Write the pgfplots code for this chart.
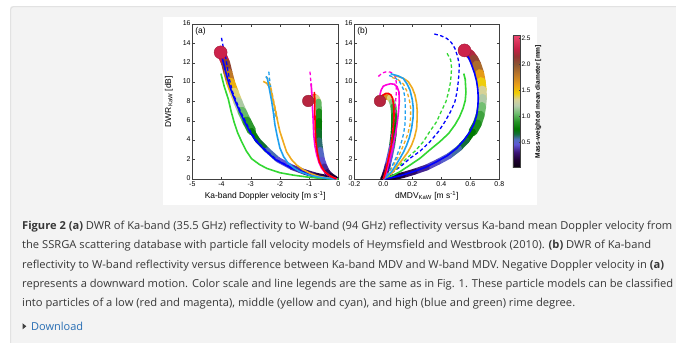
\documentclass[border=0pt]{standalone}
\usepackage{pgfplots}
\pgfplotsset{compat=1.18}
\usepackage{graphicx}
\usepackage{fontspec}
\setmainfont{Liberation Sans}
\newfontfamily\capfont{Open Sans}

\definecolor{cblue}{RGB}{0,0,255}
\definecolor{cgreen}{RGB}{50,215,50}
\definecolor{corange}{RGB}{240,170,30}
\definecolor{ccyan}{RGB}{30,160,240}
\definecolor{cmag}{RGB}{255,0,220}
\definecolor{cred}{RGB}{255,0,0}
\definecolor{panelgray}{RGB}{243,243,243}
\definecolor{panelborder}{RGB}{226,226,226}
\definecolor{captext}{RGB}{55,55,55}
\definecolor{linkblue}{RGB}{40,110,180}

\pgfplotsset{
  colormap={dm}{rgb255(0cm)=(10,0,15) rgb255(0.15cm)=(30,0,50) rgb255(0.3cm)=(60,20,120)
    rgb255(0.45cm)=(95,85,215) rgb255(0.55cm)=(80,110,190) rgb255(0.65cm)=(20,110,60)
    rgb255(0.75cm)=(0,120,0) rgb255(0.9cm)=(40,150,40) rgb255(1.05cm)=(110,190,110)
    rgb255(1.2cm)=(185,205,175) rgb255(1.32cm)=(215,210,150) rgb255(1.45cm)=(240,205,0)
    rgb255(1.6cm)=(235,160,20) rgb255(1.8cm)=(190,120,40) rgb255(2cm)=(140,85,50)
    rgb255(2.15cm)=(150,50,50) rgb255(2.3cm)=(200,30,70) rgb255(2.55cm)=(235,70,110)},
  panel/.style={
    scale only axis, height=154.7bp, ymin=0, ymax=16, ytick={0,2,...,16},
    tick align=inside, major tick length=2.2bp,
    axis line style={black!75, line width=0.45bp},
    tick style={black!75, line width=0.4bp},
    ticklabel style={font=\fontsize{7}{8}\selectfont, inner sep=1.5bp},
    xticklabel style={yshift=-1bp},
    yticklabel style={yshift=0.8bp},
    label style={font=\fontsize{8.5}{10}\selectfont},
    /pgf/number format/assume math mode=true,
    colormap name=dm, point meta min=0, point meta max=2.55,
  },
  sol/.style={line width=1.6bp, no marks},
  dsh/.style={line width=1.3bp, no marks, dash pattern=on 3.5bp off 2.5bp},
  trk/.style={mesh, point meta=explicit, line cap=round, line join=round, no marks},
  blob/.style={scatter, only marks, mark=*, point meta=explicit},
}

\begin{document}
\begin{tikzpicture}
\useasboundingbox (0,0) rectangle (676bp,-343bp);
\fill[white] (0,0) rectangle (676bp,-343bp);
\fill[panelgray, rounded corners=3bp] (10bp,-6bp) rectangle (700bp,-370bp);
\draw[panelborder, line width=1.2bp, rounded corners=3bp] (10.6bp,-370bp) -- (10.6bp,-6.6bp) -- (700bp,-6.6bp);
\fill[white] (163bp,-17bp) rectangle (537bp,-205bp);

% ---------------- panel (a) ----------------
\begin{axis}[panel, at={(192.3bp,-179bp)}, anchor=south west, width=146bp,
  xmin=-5, xmax=0, xtick={-5,-4,-3,-2,-1,0},
  xlabel={Ka-band Doppler velocity [m s\textsuperscript{-1}]},
  ylabel={DWR\textsubscript{KaW} [dB]}, ylabel shift=5bp]
% thick track, high rime
\addplot[trk, line width=9bp] table[meta=D] {
x y D
-4.02 13.1 2.4
-3.86 12.0 2.2
-3.78 11.0 1.95
-3.69 10.0 1.65
-3.57 9.0 1.45
-3.44 8.0 1.25
-3.30 7.0 1.1
-3.14 6.0 0.97
-2.97 5.0 0.85
};
\addplot[trk, line width=5.5bp] table[meta=D] {
x y D
-2.97 5.0 0.85
-2.76 4.0 0.72
-2.44 3.0 0.62
-2.07 2.0 0.5
-1.58 1.2 0.4
-1.13 0.7 0.32
-0.74 0.35 0.23
-0.36 0.12 0.13
-0.08 0.0 0.04
};
% thick track, low rime
\addplot[trk, line width=6bp] table[meta=D] {
x y D
-1.03 8.07 2.4
-0.95 8.3 2.2
-0.85 8.5 1.9
-0.75 8.4 1.5
-0.68 8.0 1.15
-0.66 7.0 0.9
-0.66 6.0 0.8
-0.67 5.0 0.72
-0.66 4.0 0.65
-0.62 3.0 0.57
-0.56 2.0 0.48
-0.48 1.3 0.4
-0.38 0.7 0.3
-0.25 0.3 0.2
-0.12 0.05 0.08
};
\addplot[blob, mark size=6.5bp] table[meta=D] {
x y D
-4.03 13.1 2.33
};
\addplot[blob, mark size=5.8bp] table[meta=D] {
x y D
-1.03 8.07 2.25
};
% dashed lines
\addplot[dsh, cblue] table {
-4.0 14.6
-3.95 13.8
-3.88 13.0
-3.83 12.1
-3.78 11.2
-3.72 10.2
-3.62 9
-3.49 8
-3.35 7
-3.19 6
-3.02 5
-2.81 4
-2.49 3
-2.12 2
-1.62 1.2
-1.17 0.7
-0.77 0.35
-0.37 0.12
-0.08 0
};
\addplot[dsh, ccyan] table {
-2.38 11.1
-2.36 10.5
-2.33 9.8
-2.26 8.6
-2.2 7.5
-2.15 6.3
};
\addplot[dsh, corange] table {
-2.47 10.6
-2.40 10.3
-2.32 9.6
-2.24 8.5
-2.16 7.3
-2.08 6.2
};
\addplot[dsh, cmag] table {
-0.97 11.1
-0.95 10.4
-0.93 9.7
-0.91 8.7
-0.89 7.5
-0.87 6.3
};
% solid lines
\addplot[sol, cgreen] table {
-4.02 10.9
-3.9 9.5
-3.77 8.3
-3.67 7
-3.57 5.9
-3.45 4.8
-3.31 3.86
-3.15 2.9
-2.97 2.1
-2.7 1.5
-2.45 1.1
-2.0 0.65
-1.54 0.4
-1.0 0.18
-0.4 0.03
0 0
};
\addplot[sol, cblue] table {
-4.03 13.1
-3.93 12
-3.85 11
-3.76 10
-3.65 9
-3.52 8
-3.38 7
-3.22 6
-3.05 5
-2.84 4
-2.52 3
-2.15 2
-1.65 1.2
-1.2 0.7
-0.8 0.35
-0.4 0.12
-0.1 0
};
\addplot[sol, corange] table {
-2.57 10.1
-2.45 9.9
-2.34 9.4
-2.25 8.3
-2.17 7.3
-2.08 6.0
-2.0 4.9
-1.88 3.8
-1.77 2.8
-1.6 2.0
-1.43 1.45
-1.2 0.95
-0.97 0.59
-0.7 0.3
-0.4 0.12
-0.15 0.02
};
\addplot[sol, ccyan] table {
-2.48 10.6
-2.43 10.4
-2.36 9.3
-2.28 8.0
-2.22 6.8
-2.17 5.6
-2.09 4.4
-2.0 3.2
-1.87 2.3
-1.71 1.6
-1.5 1.1
-1.31 0.76
-1.0 0.4
-0.63 0.17
-0.3 0.05
-0.1 0.01
};
\addplot[sol, cmag] table {
-0.93 9.9
-0.9 8.5
-0.88 7.3
-0.86 6
-0.84 4.55
-0.8 3.4
-0.74 2.5
-0.66 1.7
-0.57 1.1
-0.46 0.7
-0.34 0.41
-0.2 0.18
-0.11 0.07
-0.05 0.0
};
\addplot[sol, cred] table {
-0.82 9.0
-0.8 8.0
-0.8 6.6
-0.79 5.2
-0.77 3.9
-0.72 2.8
-0.65 1.8
-0.56 1.2
-0.46 0.76
-0.32 0.4
-0.17 0.14
-0.07 0.02
};
\node[anchor=north west, inner sep=0, font=\fontsize{8.5}{10}\selectfont] at (rel axis cs:0.02,0.98) {(a)};
\end{axis}

% ---------------- panel (b) ----------------
\begin{axis}[panel, at={(354.3bp,-179bp)}, anchor=south west, width=145bp,
  xmin=-0.2, xmax=0.8, xtick={-0.2,0,0.2,0.4,0.6,0.8},
  xticklabel style={/pgf/number format/.cd, fixed, fixed zerofill, precision=1},
  xlabel={dMDV\textsubscript{KaW} [m s\textsuperscript{-1}]},
  colorbar,
  colorbar style={at={(parent axis.east)}, anchor=west, xshift=5bp,
    width=7.5bp, height=132bp, ytick={0.5,1,1.5,2,2.5},
    tick align=inside, major tick length=1.5bp,
    axis line style={black!75, line width=0.4bp},
    tick style={black!75, line width=0.3bp},
    yticklabel style={font=\fontsize{6.5}{7}\selectfont, inner sep=1bp, yshift=0bp,
      /pgf/number format/.cd, fixed, fixed zerofill, precision=1},
    ylabel={Mass-weighted mean diameter [mm]},
    ylabel style={font=\bfseries\fontsize{6.6}{7}\selectfont},
    /pgf/number format/assume math mode=true}]
% thick track high rime
\addplot[trk, line width=9bp] table[meta=D] {
x y D
0.565 13.25 2.4
0.6 12.9 2.3
0.625 12.4 2.15
0.645 11.8 2.0
0.665 10.9 1.75
0.675 10.07 1.5
0.682 9.2 1.38
0.683 8.34 1.25
0.678 7.5 1.12
0.668 6.6 1.0
0.648 5.7 0.9
0.618 4.9 0.8
};
\addplot[trk, line width=6bp] table[meta=D] {
x y D
0.618 4.9 0.8
0.575 4.0 0.7
0.522 3.17 0.61
0.455 2.4 0.53
0.38 1.79 0.46
0.3 1.2 0.38
0.215 0.76 0.3
0.135 0.4 0.2
0.07 0.17 0.12
0.02 0.03 0.05
0 0 0.02
};
% thick track low rime
\addplot[trk, line width=6bp] table[meta=D] {
x y D
-0.023 8.07 2.4
-0.005 8.4 2.2
0.02 8.55 1.9
0.045 8.4 1.5
0.06 8.0 1.2
0.07 7.5 1.0
0.075 6.6 0.88
0.075 5.6 0.78
0.07 4.5 0.7
0.06 3.4 0.6
0.046 2.4 0.5
0.03 1.4 0.38
0.015 0.6 0.25
0.003 0.1 0.1
0 0 0.05
};
\addplot[blob, mark size=6.5bp] table[meta=D] {
x y D
0.56 13.3 2.33
};
\addplot[blob, mark size=5.8bp] table[meta=D] {
x y D
-0.023 8.07 2.25
};
% dashed
\addplot[dsh, cblue] table {
0.352 15.0
0.40 14.8
0.437 14.55
0.47 14.1
0.494 13.5
0.512 12.7
0.524 11.8
0.522 10.9
0.517 10.07
0.508 9.0
0.494 8.0
0.465 7.0
0.425 5.93
0.38 4.9
0.322 3.86
0.255 2.9
0.184 2.14
0.12 1.3
0.069 0.76
0.025 0.25
0 0
};
\addplot[dsh, cgreen] table {
0.44 13.0
0.465 12.3
0.471 11.45
0.464 10.07
0.45 9.0
0.432 8.0
0.40 7.0
0.368 5.93
0.32 4.9
0.276 3.86
0.22 2.9
0.161 2.14
0.1 1.2
0.046 0.5
0 0
};
\addplot[dsh, corange] table {
0.06 10.5
0.1 10.3
0.14 9.8
0.165 9.0
0.182 8.0
0.189 7.3
0.188 6.4
0.184 5.6
0.17 4.7
0.149 3.86
0.125 3.0
0.1 2.2
0.07 1.4
0.04 0.7
0.015 0.2
0 0
};
\addplot[dsh, ccyan] table {
0.04 10.7
0.08 10.5
0.115 10.0
0.138 9.3
0.148 8.5
0.152 7.6
0.152 6.6
0.149 5.6
0.14 4.7
0.126 3.86
0.108 3.0
0.088 2.2
0.062 1.4
0.035 0.7
0.012 0.2
0 0
};
\addplot[dsh, cmag] table {
-0.034 10.6
-0.01 10.95
0.023 11.1
0.05 11.05
0.069 10.9
0.085 10.5
0.09 9.9
0.09 9.0
0.085 8.0
0.08 7.0
0.072 5.9
0.063 4.9
0.054 3.86
0.044 2.9
0.034 2.14
0.024 1.4
0.015 0.76
0.006 0.25
0 0
};
% solid
\addplot[sol, cgreen] table {
0.555 10.9
0.565 10.3
0.57 9.0
0.565 8.1
0.55 7.3
0.525 6.4
0.494 5.6
0.45 4.7
0.39 3.86
0.32 3.0
0.253 2.14
0.18 1.4
0.115 0.76
0.05 0.25
0 0
};
\addplot[sol, cblue] table {
0.563 13.1
0.59 12.5
0.609 11.8
0.63 10.9
0.644 10.07
0.652 9.2
0.655 8.34
0.652 7.5
0.644 6.6
0.625 5.7
0.598 4.9
0.555 4.0
0.506 3.17
0.44 2.4
0.368 1.79
0.29 1.2
0.207 0.76
0.13 0.4
0.069 0.17
0.02 0.03
0 0
};
\addplot[sol, corange] table {
0.075 10.7
0.103 10.6
0.14 10.4
0.172 10.07
0.2 9.4
0.218 8.7
0.23 7.8
0.234 7.0
0.233 6.1
0.23 5.24
0.215 4.3
0.195 3.5
0.17 2.8
0.138 2.14
0.1 1.4
0.069 0.76
0.03 0.25
0 0
};
\addplot[sol, ccyan] table {
0.05 10.9
0.069 10.8
0.105 10.65
0.138 10.4
0.165 9.8
0.184 9.2
0.2 8.2
0.207 7.3
0.205 6.3
0.195 5.24
0.18 4.3
0.161 3.5
0.14 2.8
0.115 2.14
0.085 1.4
0.057 0.76
0.025 0.25
0 0
};
\addplot[sol, cmag] table {
-0.023 8.7
-0.015 9.2
0.0 9.6
0.023 9.75
0.05 9.85
0.075 9.8
0.095 9.55
0.108 9.0
0.11 8.0
0.105 7.0
0.097 5.93
0.087 4.9
0.074 3.86
0.06 2.9
0.046 2.14
0.033 1.4
0.023 0.76
0.01 0.25
0 0
};
\addplot[sol, cred] table {
-0.023 8.17
-0.01 8.55
0.0 8.7
0.017 8.85
0.034 8.86
0.052 8.7
0.064 8.34
0.072 7.5
0.074 6.6
0.07 5.6
0.064 4.55
0.055 3.5
0.041 2.48
0.03 1.7
0.018 0.93
0.008 0.35
0 0
};
\node[anchor=north west, inner sep=0, font=\fontsize{8.5}{10}\selectfont] at (rel axis cs:0.02,0.98) {(b)};
\end{axis}

% ---------------- caption ----------------
\begin{scope}[every node/.style={anchor=base west, inner sep=0, text=captext,
    font=\capfont\fontsize{11}{13}\selectfont}]
\node at (22bp,-229.3bp) {\resizebox{650bp}{\height}{\textbf{Figure 2 (a)} DWR of Ka-band (35.5 GHz) reflectivity to W-band (94 GHz) reflectivity versus Ka-band mean Doppler velocity from}};
\node at (22bp,-248.7bp) {\resizebox{629bp}{\height}{the SSRGA scattering database with particle fall velocity models of Heymsfield and Westbrook (2010). \textbf{(b)} DWR of Ka-band}};
\node at (22bp,-268.1bp) {\resizebox{642bp}{\height}{reflectivity to W-band reflectivity versus difference between Ka-band MDV and W-band MDV. Negative Doppler velocity in \textbf{(a)}}};
\node at (22bp,-287.5bp) {\resizebox{651bp}{\height}{represents a downward motion. Color scale and line legends are the same as in Fig. 1. These particle models can be classified}};
\node at (22bp,-306.9bp) {\resizebox{553bp}{\height}{into particles of a low (red and magenta), middle (yellow and cyan), and high (blue and green) rime degree.}};
\node[text=linkblue] at (31bp,-330bp) {\resizebox{52bp}{\height}{Download}};
\end{scope}
\fill[black!75] (22.5bp,-323.2bp) -- (26.3bp,-326.3bp) -- (22.5bp,-329.4bp) -- cycle;
\end{tikzpicture}
\end{document}
